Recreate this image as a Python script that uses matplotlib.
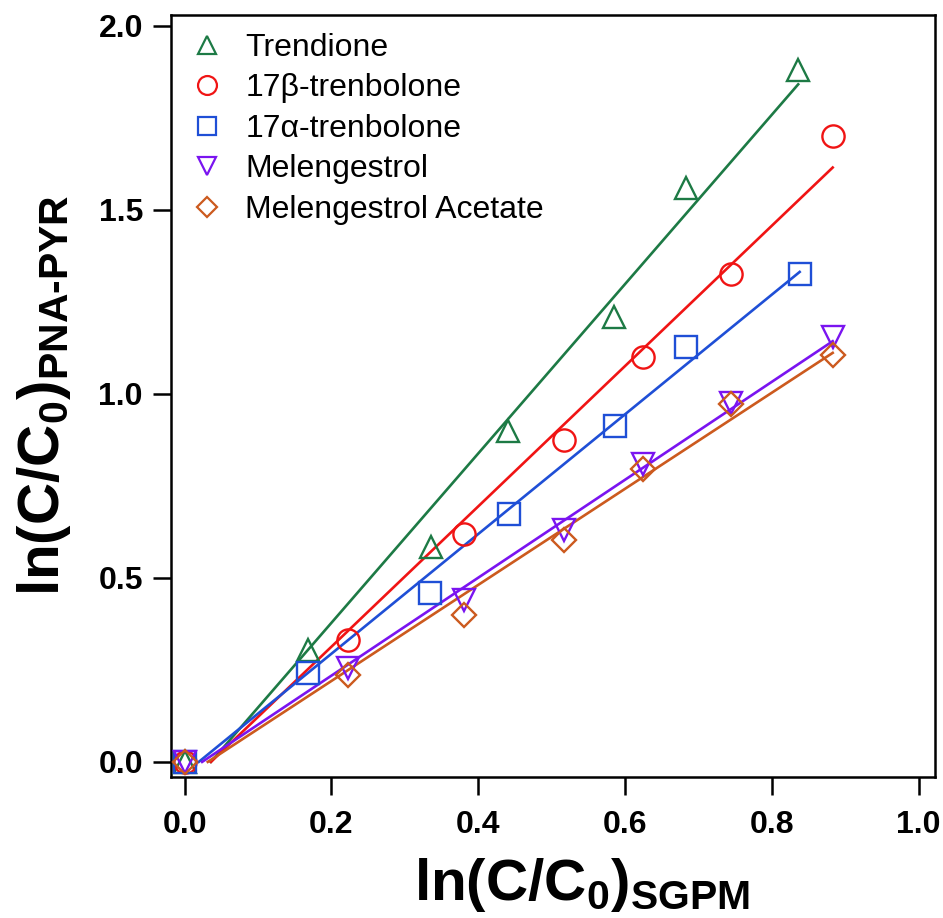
import numpy as np
import matplotlib
matplotlib.use("Agg")
import matplotlib.pyplot as plt
from matplotlib.lines import Line2D

# ln(C/C0) measured with the SGPM versus the PNA-PYR passive sampler
x_trendione = [0.0, 0.168, 0.336, 0.441, 0.585, 0.683, 0.836]
y_trendione = [0.0, 0.304, 0.584, 0.900, 1.210, 1.560, 1.880]

x_17b = [0.0, 0.222, 0.381, 0.517, 0.625, 0.745, 0.883]
y_17b = [0.0, 0.330, 0.620, 0.875, 1.100, 1.326, 1.700]

x_17a = [0.0, 0.168, 0.334, 0.442, 0.587, 0.683, 0.838]
y_17a = [0.0, 0.242, 0.460, 0.674, 0.913, 1.128, 1.326]

x_meleng = [0.0, 0.222, 0.381, 0.517, 0.625, 0.745, 0.883]
y_meleng = [0.0, 0.255, 0.440, 0.630, 0.810, 0.975, 1.155]

x_mga = [0.0, 0.222, 0.381, 0.517, 0.625, 0.745, 0.883]
y_mga = [0.0, 0.236, 0.400, 0.603, 0.796, 0.973, 1.106]

labels = ["Trendione", "17\u03b2-trenbolone", "17\u03b1-trenbolone",
          "Melengestrol", "Melengestrol Acetate"]

x_ticks = [0.0, 0.2, 0.4, 0.6, 0.8, 1.0]
y_ticks = [0.0, 0.5, 1.0, 1.5, 2.0]

series = [
    (x_trendione, y_trendione, "^", "#1d7a45", 16),
    (x_17b, y_17b, "o", "#f01414", 16),
    (x_17a, y_17a, "s", "#1f4fd6", 16),
    (x_meleng, y_meleng, "v", "#7a14f0", 16),
    (x_mga, y_mga, "D", "#cc5a1e", 12),
]

plt.rcParams["font.family"] = ["Liberation Sans", "DejaVu Sans"]
plt.rcParams["mathtext.fontset"] = "custom"
plt.rcParams["mathtext.rm"] = "Liberation Sans:bold"
plt.rcParams["mathtext.it"] = "Liberation Sans:bold"
plt.rcParams["mathtext.bf"] = "Liberation Sans:bold"
plt.rcParams["mathtext.default"] = "rm"

fig = plt.figure(figsize=(9.43, 9.18), dpi=100)
ax = fig.add_axes([0.181, 0.154, 0.811, 0.830])

handles = []
for (xs, ys, mk, col, ms), lab in zip(series, labels):
    xs = np.asarray(xs)
    ys = np.asarray(ys)
    # least-squares fit, drawn from its x-intercept to the last point
    m, b = np.polyfit(xs, ys, 1)
    xf = np.array([-b / m, xs.max()])
    ax.plot(xf, m * xf + b, color=col, lw=1.9, zorder=2)
    ax.plot(xs, ys, ls="none", marker=mk, ms=ms, mfc="none", mec=col,
            mew=1.7, zorder=3)
    handles.append(Line2D([], [], ls="none", marker=mk, ms=ms * 0.85,
                          mfc="none", mec=col, mew=1.6, label=lab))

ax.set_xlim(-0.019, 1.023)
ax.set_ylim(-0.04, 2.03)
ax.set_xticks(x_ticks)
ax.set_yticks(y_ticks)
ax.set_xticklabels([f"{v:.1f}" for v in x_ticks])
ax.set_yticklabels([f"{v:.1f}" for v in y_ticks])

for sp in ax.spines.values():
    sp.set_linewidth(1.8)
ax.tick_params(direction="out", length=13, width=1.8, labelsize=23)
ax.tick_params(axis="x", pad=11)
ax.tick_params(axis="y", pad=7)
for t in ax.get_xticklabels() + ax.get_yticklabels():
    t.set_fontweight("bold")

ax.set_xlabel(r"ln(C/C$_0$)$_{\mathrm{SGPM}}$", fontsize=42,
              fontweight="bold")
ax.set_ylabel(r"ln(C/C$_0$)$_{\mathrm{PNA\text{-}PYR}}$", fontsize=42,
              fontweight="bold")
ax.xaxis.set_label_coords(0.538, -0.104)
ax.xaxis.label.set_va("top")
ax.yaxis.set_label_coords(-0.128, 0.5)

ax.legend(handles=handles, loc="upper left", bbox_to_anchor=(0.01, 0.993),
          frameon=False, fontsize=23, labelspacing=0.33, handlelength=1.0,
          handletextpad=0.7, borderaxespad=0.0)

fig.savefig("out.png", dpi=100)
